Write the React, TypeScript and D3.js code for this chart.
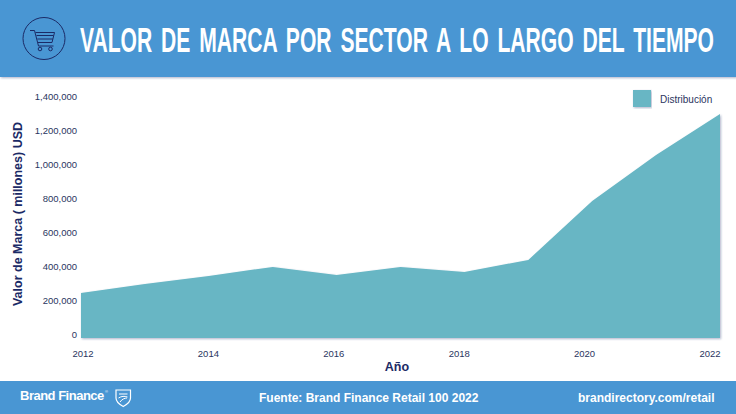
import React from 'react'
import * as d3 from 'd3'

const years = [2012, 2013, 2014, 2015, 2016, 2017, 2018, 2019, 2020, 2021, 2022]
const brandValues = [265000, 318000, 365000, 418000, 370000, 418000, 388000, 459000, 806000, 1076000, 1317000]
const yTicks = [0, 200000, 400000, 600000, 800000, 1000000, 1200000, 1400000]
const xTicks = [2012, 2014, 2016, 2018, 2020, 2022]

const WIDTH = 736
const HEIGHT = 414
const BLUE = '#4996d3'
const NAVY = '#1b2a66'
const TEAL = '#67b6c4'
const FONT = 'Arimo, "Liberation Sans", Arial, sans-serif'

export default function App() {
    const x = d3.scaleLinear().domain([2012, 2022]).range([81, 720])
    // the tick labels run on a slightly tighter scale than the area
    const xLabel = d3.scaleLinear().domain([2012, 2022]).range([83, 710])
    const y = d3.scaleLinear().domain([0, 1400000]).range([338, 100])
    const yLabel = d3.scaleLinear().domain([0, 1400000]).range([334.5, 97])

    const area = d3
        .area<number>()
        .x((_, i) => x(years[i]))
        .y0(y(0))
        .y1((d) => y(d))(brandValues)!

    const fmt = d3.format(',')

    return (
        <svg
            width={WIDTH}
            height={HEIGHT}
            viewBox={`0 0 ${WIDTH} ${HEIGHT}`}
            style={{ position: 'fixed', left: 0, top: 0, background: '#fff' }}
            fontFamily={FONT}
        >
            <defs>
                <filter id="shadow" x="-5%" y="-5%" width="110%" height="115%">
                    <feDropShadow dx="1" dy="1" stdDeviation="1" floodColor="#1b2a66" floodOpacity="0.35" />
                </filter>
            </defs>

            {/* header */}
            <rect x={0} y={0} width={WIDTH} height={77} fill={BLUE} filter="url(#shadow)" />
            <circle cx={44} cy={38.5} r={21} fill="none" stroke={NAVY} strokeWidth={1} />
            <g fill="none" stroke={NAVY} strokeWidth={1}>
                <path d="M30 30.5h4.5l4 15.5h15" />
                <path d="M35.5 32.5h19l-2.5 10h-14" />
                <path d="M36.500 35.500h17M37.300 39h15.500" />
                <circle cx={40} cy={49} r={1.8} />
                <circle cx={50.500} cy={49} r={1.8} />
            </g>
            <text
                x={80}
                y={52}
                fill="#fff"
                fontFamily='"Liberation Sans Narrow", "Liberation Sans", sans-serif'
                fontSize={35}
                fontWeight={700}
                textLength={634}
                lengthAdjust="spacingAndGlyphs"
                style={{ wordSpacing: 5 }}
            >
                VALOR DE MARCA POR SECTOR A LO LARGO DEL TIEMPO
            </text>

            {/* y ticks */}
            <g fontSize={9.500} fill="#2a3560" textAnchor="end">
                {yTicks.map((t) => (
                    <text key={t} x={77} y={yLabel(t)} dy="0.35em">
                        {fmt(t)}
                    </text>
                ))}
            </g>

            {/* x ticks */}
            <g fontSize={9.500} fill="#2a3560" textAnchor="middle">
                {xTicks.map((t) => (
                    <text key={t} x={xLabel(t)} y={357}>
                        {t}
                    </text>
                ))}
            </g>

            <path d={area} fill={TEAL} filter="url(#shadow)" />

            {/* axis titles */}
            <text
                transform="translate(22,214) rotate(-90)"
                textAnchor="middle"
                fontSize={12.500}
                fontWeight={700}
                fill={NAVY}
            >
                Valor de Marca ( millones) USD
            </text>
            <text x={397} y={371} textAnchor="middle" fontSize={12.500} fontWeight={700} fill={NAVY}>
                Año
            </text>

            {/* legend */}
            <rect x={633} y={90} width={18} height={17} fill={TEAL} filter="url(#shadow)" />
            <text x={660} y={102.500} fontSize={10} fill="#2a3560">
                Distribución
            </text>

            {/* footer */}
            <rect x={0} y={381} width={WIDTH} height={33} fill={BLUE} />
            <text x={20} y={400} fill="#fff" fontSize={13} fontWeight={700} letterSpacing={-0.5}>
                Brand Finance
            </text>
            <text x={105} y={393} fill="#fff" fontSize={4}>
                ®
            </text>
            <path
                d="M116 390h14.500v8c0 4-3.500 6.500-7.250 8.500c-3.750-2-7.250-4.500-7.250-8.500z"
                fill="none"
                stroke="#fff"
                strokeWidth={1.2}
            />
            <path d="M119 394h8.500M118.500 398c3-2 6-2 9-1M120 402c2-3 5-4 7-4" fill="none" stroke="#fff" strokeWidth={1} />
            <text x={259} y={402} fill="#fff" fontSize={12} fontWeight={700}>
                Fuente: Brand Finance Retail 100 2022
            </text>
            <text x={578} y={402} fill="#fff" fontSize={12} fontWeight={700}>
                brandirectory.com/retail
            </text>
        </svg>
    )
}
